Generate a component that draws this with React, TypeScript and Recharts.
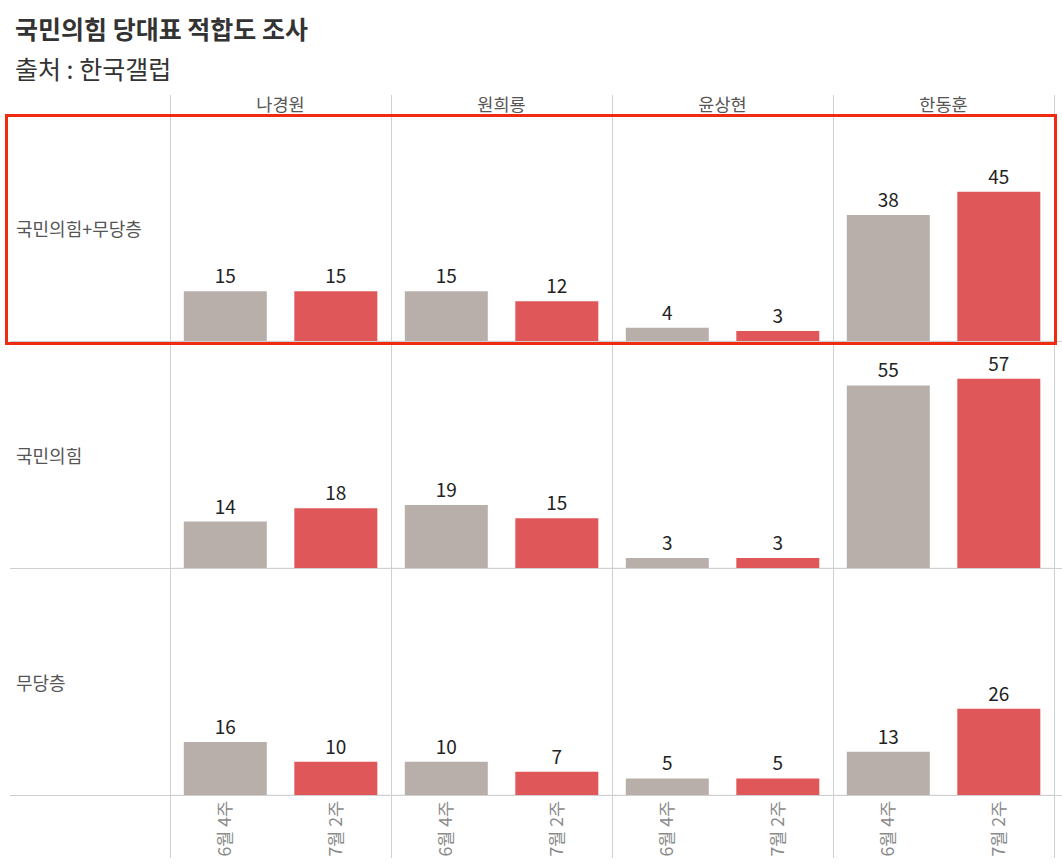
import React from 'react';
import { BarChart, Bar, XAxis, YAxis, CartesianGrid, Cell, LabelList } from 'recharts';

const candidates = ['나경원', '원희룡', '윤상현', '한동훈'];
const periods = ['6월 4주', '7월 2주'];
const groups = ['국민의힘+무당층', '국민의힘', '무당층'];

const ppIndJun = [15, 15, 4, 38];
const ppIndJul = [15, 12, 3, 45];
const ppJun = [14, 19, 3, 55];
const ppJul = [18, 15, 3, 57];
const indJun = [16, 10, 5, 13];
const indJul = [10, 7, 5, 26];

const yTicks = [0, 20, 40, 60];

const seriesByGroup = [
  [ppIndJun, ppIndJul],
  [ppJun, ppJul],
  [indJun, indJul],
];

const periodColors = ['#b9afaa', '#e0575a'];

const FONT = '"Noto Sans CJK KR", "Noto Sans", sans-serif';

const LEFT = 170;
const COL_W = 221;
const ROW_TOP = 114;
const ROW_H = 227;
const AXIS_H = 66;
const Y_MAX = 68.4;

const rowData = groups.map((g, gi) =>
  candidates.flatMap((c, ci) =>
    periods.map((p, pi) => ({
      key: `${c}|${p}`,
      period: p,
      pi,
      value: seriesByGroup[gi][pi][ci],
    }))
  )
);

const PeriodTick = (props: any) => {
  const { x, y, payload } = props;
  const label = String(payload.value).split('|')[1];
  const ty = y + 6;
  return (
    <text
      x={x}
      y={ty}
      transform={`rotate(-90 ${x} ${ty})`}
      textAnchor="end"
      dy="0.35em"
      fontSize={17.5}
      fill="#8a8a8a"
      fontFamily={FONT}
    >
      {label}
    </text>
  );
};

export default function App() {
  const chartW = COL_W * candidates.length;
  return (
    <div
      style={{
        position: 'absolute',
        left: 0,
        top: 0,
        width: 1062,
        height: 868,
        background: '#fff',
        fontFamily: FONT,
        overflow: 'hidden',
      }}
    >
      <div style={{ position: 'absolute', left: 15, top: 14, fontSize: 25, lineHeight: '28px', fontWeight: 700, color: '#333' }}>
        국민의힘 당대표 적합도 조사
      </div>
      <div style={{ position: 'absolute', left: 15, top: 54, fontSize: 25, lineHeight: '28px', fontWeight: 400, color: '#333' }}>
        출처 : 한국갤럽
      </div>

      {candidates.map((c, i) => (
        <div
          key={c}
          style={{
            position: 'absolute',
            left: LEFT + i * COL_W,
            width: COL_W,
            top: 92,
            textAlign: 'center',
            fontSize: 17.5,
            lineHeight: '24px',
            color: '#555',
          }}
        >
          {c}
        </div>
      ))}

      {groups.map((g, gi) => (
        <div
          key={g}
          style={{
            position: 'absolute',
            left: 16,
            top: ROW_TOP + gi * ROW_H + ROW_H / 2 - 12,
            fontSize: 18,
            lineHeight: '24px',
            color: '#555',
          }}
        >
          {g}
        </div>
      ))}

      {rowData.map((data, gi) => {
        const isLast = gi === groups.length - 1;
        return (
          <div
            key={gi}
            style={{ position: 'absolute', left: LEFT, top: ROW_TOP + gi * ROW_H }}
          >
            <BarChart
              width={chartW}
              height={ROW_H + (isLast ? AXIS_H : 0)}
              data={data}
              margin={{ top: 0, right: 0, bottom: 0, left: 0 }}
              barCategoryGap="12.5%"
            >
              <CartesianGrid vertical={false} stroke="#ececec" />
              <YAxis
                width={0}
                domain={[0, Y_MAX]}
                ticks={yTicks}
                tick={false}
                axisLine={false}
                tickLine={false}
                allowDataOverflow
              />
              <XAxis
                dataKey="key"
                type="category"
                hide={!isLast}
                height={AXIS_H}
                axisLine={false}
                tickLine={false}
                tickSize={0}
                tickMargin={0}
                interval={0}
                tick={<PeriodTick />}
              />
              <Bar dataKey="value" isAnimationActive={false}>
                {data.map((d) => (
                  <Cell key={d.key} fill={periodColors[d.pi]} />
                ))}
                <LabelList
                  dataKey="value"
                  position="top"
                  offset={8}
                  fontSize={19}
                  fill="#222"
                  fontFamily={FONT}
                />
              </Bar>
            </BarChart>
          </div>
        );
      })}

      {groups.map((g, gi) => (
        <div
          key={`sep-${g}`}
          style={{
            position: 'absolute',
            left: 10,
            top: ROW_TOP + (gi + 1) * ROW_H,
            width: 1052,
            height: 1,
            background: '#cfcfcf',
          }}
        />
      ))}

      {[0, 1, 2, 3, 4].map((i) => (
        <div
          key={`col-${i}`}
          style={{
            position: 'absolute',
            left: LEFT + i * COL_W,
            top: 95,
            width: 1,
            height: 763,
            background: '#d0d0d0',
          }}
        />
      ))}

      <div
        style={{
          position: 'absolute',
          left: 5,
          top: 114,
          width: 1052,
          height: 231,
          border: '3px solid #ef2b12',
          boxSizing: 'border-box',
        }}
      />
    </div>
  );
}
